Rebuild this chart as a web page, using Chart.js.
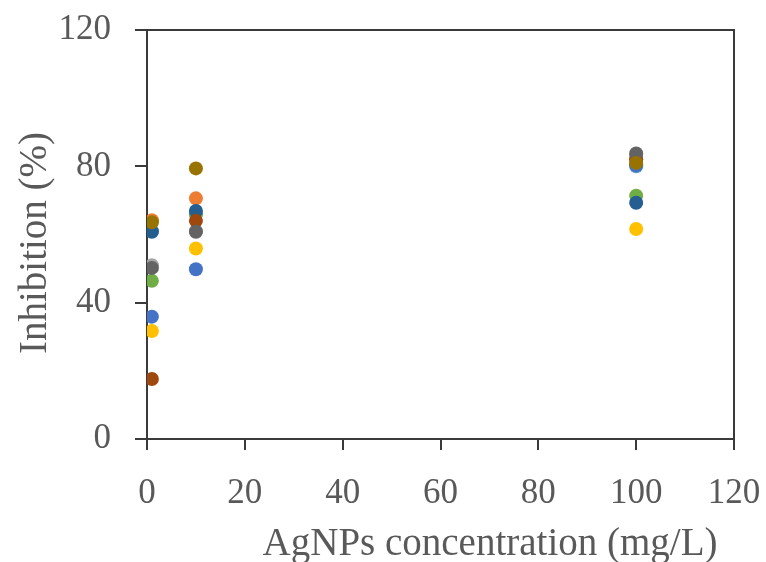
<!DOCTYPE html>
<html>
<head>
<meta charset="utf-8">
<script src="https://cdn.jsdelivr.net/npm/chart.js@4/dist/chart.umd.min.js"></script>
<style>
html,body{margin:0;padding:0;background:#fff;}
#wrap{width:766px;height:562px;position:relative;}
</style>
</head>
<body>
<div id="wrap"><canvas id="c" width="766" height="562"></canvas></div>
<script>
// Data
const concentrations = [1, 10, 100];
const seriesNames = ['S1','S2','S3','S4','S5','S6','S7','S8','S9','S10'];
const s1 = [61.0, 66.0, 80.0];
const s2 = [64.2, 70.6, 82.0];
const s3 = [51.0, 61.0, 83.0];
const s4 = [31.7, 55.9, 61.6];
const s5 = [35.9, 49.8, 80.3];
const s6 = [46.4, 66.0, 71.4];
const s7 = [60.8, 66.9, 69.3];
const s8 = [17.6, 64.0, 82.0];
const s9 = [50.2, 60.8, 83.8];
const s10 = [63.6, 79.4, 81.0];
const seriesValues = [s1, s2, s3, s4, s5, s6, s7, s8, s9, s10];
const seriesColors = ['#5B9BD5','#ED7D31','#A5A5A5','#FFC000','#4472C4','#70AD47','#255E91','#9E480E','#636363','#997300'];
const xTicks = [0, 20, 40, 60, 80, 100, 120];
const yTicks = [0, 40, 80, 120];
const xTitle = 'AgNPs concentration (mg/L)';
const yTitle = 'Inhibition (%)';

const N = seriesValues.length;
const datasets = seriesValues.map((vals, i) => ({
  label: seriesNames[i],
  data: concentrations.map((x, j) => ({x: x, y: vals[j]})),
  backgroundColor: seriesColors[i],
  borderColor: seriesColors[i],
  borderWidth: 0,
  pointRadius: 7,
  pointHoverRadius: 7,
  order: N - i
}));

const FONT = "'Liberation Serif', 'Times New Roman', serif";
const TXT = '#595959';
const LINE = '#3a3a3a';

const frame = {
  id: 'frame',
  afterDatasetsDraw(chart) {
    const {ctx, chartArea: a} = chart;
    ctx.save();
    ctx.strokeStyle = LINE;
    ctx.lineWidth = 2;
    ctx.beginPath();
    ctx.moveTo(a.left, a.top);
    ctx.lineTo(a.right, a.top);
    ctx.lineTo(a.right, a.bottom);
    ctx.stroke();
    ctx.restore();
  },
  afterDraw(chart) {
    const {ctx} = chart;
    ctx.save();
    ctx.fillStyle = TXT;
    ctx.font = "39px " + FONT;
    ctx.textAlign = 'center';
    ctx.textBaseline = 'middle';
    ctx.fillText(xTitle, 490, 545);
    ctx.translate(36, 243);
    ctx.rotate(-Math.PI / 2);
    ctx.fillText(yTitle, 0, 0);
    ctx.restore();
  }
};

new Chart(document.getElementById('c'), {
  type: 'scatter',
  data: {datasets},
  options: {
    responsive: false,
    animation: false,
    events: [],
    layout: {padding: {left: 0, top: 30, right: 32, bottom: 0}},
    plugins: {legend: {display: false}, tooltip: {enabled: false}},
    scales: {
      x: {
        type: 'linear', min: 0, max: 120,
        afterBuildTicks(s) { s.ticks = xTicks.map(v => ({value: v})); },
        afterFit(s) { s.height = 123; s.paddingLeft = 0; s.paddingRight = 0; s.paddingTop = 0; s.paddingBottom = 0; },
        grid: {drawOnChartArea: false, drawTicks: true, tickLength: 11, color: LINE, lineWidth: 2},
        border: {color: LINE, width: 2},
        ticks: {color: TXT, font: {family: FONT, size: 35}, padding: 23, maxRotation: 0}
      },
      y: {
        type: 'linear', min: 0, max: 120,
        afterBuildTicks(s) { s.ticks = yTicks.map(v => ({value: v})); },
        afterFit(s) { s.width = 147; s.paddingLeft = 0; s.paddingRight = 0; s.paddingTop = 0; s.paddingBottom = 0; },
        grid: {drawOnChartArea: false, drawTicks: true, tickLength: 12, color: LINE, lineWidth: 2},
        border: {color: LINE, width: 2},
        ticks: {color: TXT, font: {family: FONT, size: 35}, padding: 24}
      }
    }
  },
  plugins: [frame]
});
</script>
</body>
</html>
